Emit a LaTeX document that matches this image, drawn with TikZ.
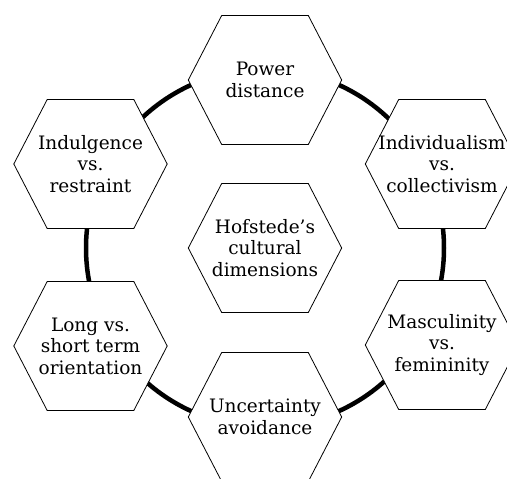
\documentclass[tikz,border=0pt]{standalone}
\usepackage{fontspec}
\setmainfont{DejaVu Serif}
\usetikzlibrary{calc}

\tikzset{
  dimbox/.style={draw, fill=white, line width=0.8pt},
  dimtext/.style={align=center, font=\fontsize{18.5}{21.5}\selectfont},
}
% hexagon around a named point
\newcommand{\hexat}[1]{%
  \draw[dimbox] ($(#1)+(-76.7,0)$) -- ++(33.4,64.5) -- ++(86.6,0)
    -- ++(33.4,-64.5) -- ++(-33.4,-64.5) -- ++(-86.6,0) -- cycle;}

\begin{document}
\begin{tikzpicture}[x=1pt, y=-1pt]
    \useasboundingbox (0,0) rectangle (507,479);

    % Centres
    \coordinate (hub) at (265,248);
    \coordinate (power) at (265,80);
    \coordinate (indiv) at (442,164);
    \coordinate (masc) at (442,345);
    \coordinate (uncert) at (265,417);
    \coordinate (longterm) at (90.5,346);
    \coordinate (indulg) at (90.5,164);

    % Ring
    \draw[line width=4.5pt] (hub) circle[radius=179];

    % Dimensions
    \hexat{hub}
    \node[dimtext] (hubtext) at (hub) {Hofstede’s\\cultural\\dimensions};

    \hexat{power}
    \node[dimtext] (powertext) at (power) {Power\\distance};

    \hexat{indiv}
    \node[dimtext] (indivtext) at (indiv) {Individualism\\vs.\\collectivism};

    \hexat{masc}
    \node[dimtext] (masctext) at (masc) {Masculinity\\vs.\\femininity};

    \hexat{uncert}
    \node[dimtext] (uncerttext) at (uncert) {Uncertainty\\avoidance};

    \hexat{longterm}
    \node[dimtext] (longtermtext) at (longterm) {Long vs.\\short term\\orientation};

    \hexat{indulg}
    \node[dimtext] (indulgtext) at (indulg) {Indulgence\\vs.\\restraint};
\end{tikzpicture}
\end{document}
